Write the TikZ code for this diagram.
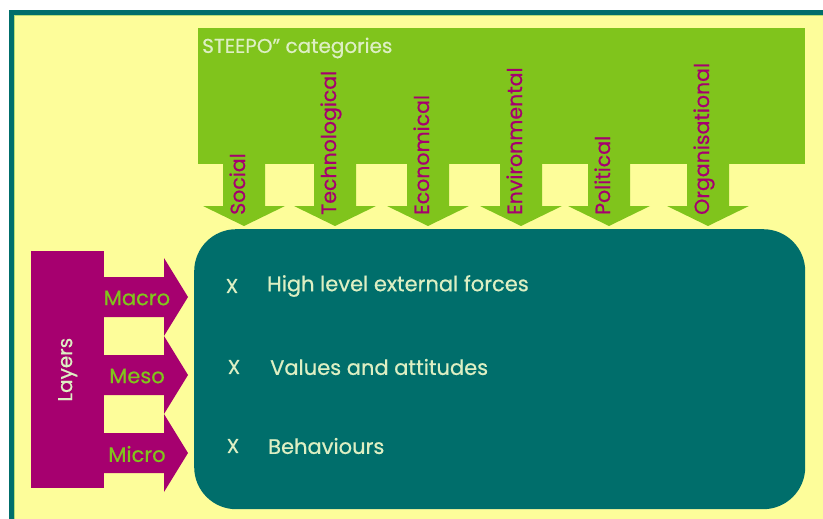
\documentclass[tikz,border=0pt]{standalone}
\usepackage{fontspec}
\setmainfont{Poppins}[UprightFeatures={FakeBold=0.6}]
\usetikzlibrary{positioning, calc}
\definecolor{paper}{HTML}{FDFD9A}
\definecolor{deepteal}{HTML}{006E6B}
\definecolor{leaf}{HTML}{80C41C}
\definecolor{plum}{HTML}{A6006F}
\definecolor{pale}{HTML}{DDEFC3}

\begin{document}
\begin{tikzpicture}[
	x=1pt, y=-1pt,
	% styles
	panel/.style = {fill=leaf, inner sep=0pt, anchor=north west},
		core/.style = {fill=deepteal, rounded corners=42pt, inner sep=0pt, anchor=north west},
	 layer/.style = {fill=plum, inner sep=0pt, anchor=north west},
 steepo/.style = {text=plum, font=\fontsize{20.5}{24}\selectfont, rotate=90, anchor=base west, inner sep=0pt},
	 level/.style = {text=leaf, font=\fontsize{21}{24}\selectfont},
	 entry/.style = {text=pale, font=\fontsize{21}{24}\selectfont, anchor=west, inner sep=0pt},
	 cross/.style = {text=pale, font=\fontsize{20}{24}\selectfont}
	]
\useasboundingbox (0,0) rectangle (823,519);
\fill[white] (0,0) rectangle (823,519);
\begin{scope}
	\clip (0,0) rectangle (823,519);
	\fill[paper] (11.5,12.5) rectangle (840,540);
	\draw[leaf!60, line width=1pt] (14.5,15.5) rectangle (840,540);
	\draw[deepteal, line width=5pt] (11.5,12.5) rectangle (840,540);
\end{scope}

%% categories
\node (cat) [panel, minimum width=607pt, minimum height=136pt] at (198,28) {};
\node (cat-title) [text=pale, font=\fontsize{20}{24}\selectfont, anchor=west, inner sep=0pt]
			at ($(cat.north west)+(4,20)$) {STEEPO” categories};

%% core
\node (inner) [core, minimum width=611pt, minimum height=280pt] at (194,229) {};

\foreach \t/\w in {244/Social, 335/Technological, 428/Economical,
									 521/Environmental, 609/Political, 708/Organisational}
{
	\fill[leaf] (\t-21,160) -- (\t+21,160) -- (\t+21,206) -- (\t+41,206)
		-- (\t,226) -- (\t-41,206) -- (\t-21,206) -- cycle;
	\node (cat-\w) [steepo] at (\t+1,215) {\w};
}

%% layers
\node (layers) [layer, minimum width=73pt, minimum height=237pt] at (31,251) {};
\node [text=pale, font=\fontsize{20}{24}\selectfont, rotate=90] at (layers.center) {Layers};

\foreach \y/\w in {297/Macro, 375/Meso, 453/Micro}
{
	\fill[plum] (100,\y-20) -- (164,\y-20) -- (164,\y-39) -- (188,\y)
		-- (164,\y+39) -- (164,\y+20) -- (100,\y+20) -- cycle;
	\node (lvl-\w) [level] at (137,\y+1) {\w};
}

%% entries
\node (x-1) [cross] at (232,286) {X};
\node (x-2) [cross] at (234,367) {X};
\node (x-3) [cross] at (233,446) {X};
\node (e-1) [entry] at (267,286) {High level external forces};
\node (e-2) [entry] at (270,367) {Values and attitudes};
\node (e-3) [entry] at (268,446) {Behaviours};
\end{tikzpicture}
\end{document}
